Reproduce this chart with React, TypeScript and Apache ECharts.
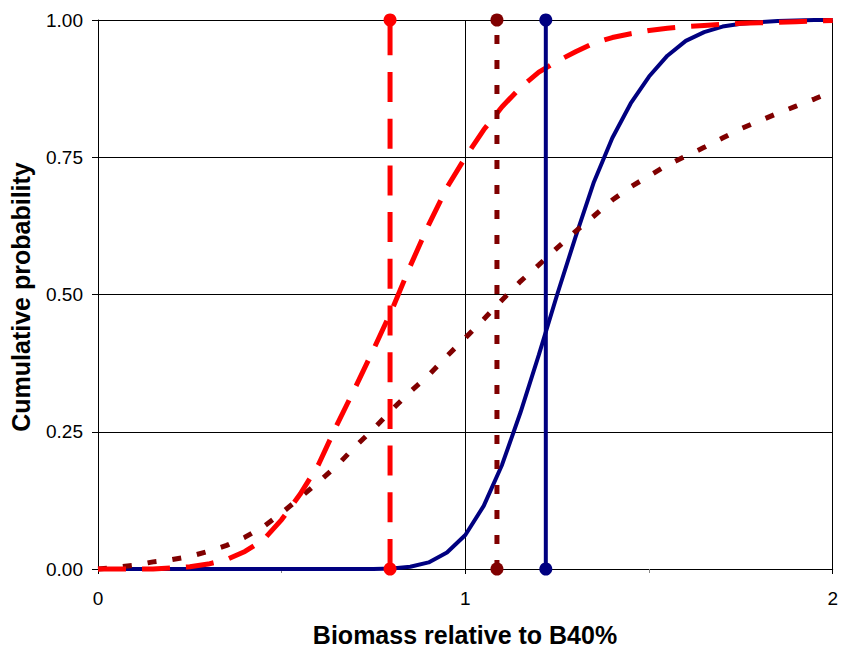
import React, { useEffect, useRef } from "react";
import * as echarts from "echarts";

// x positions of the curve points (biomass relative to B40%)
const xs = [
  0, 0.05, 0.1, 0.15, 0.2, 0.25, 0.3, 0.35, 0.4, 0.45, 0.5, 0.55, 0.6, 0.65, 0.7, 0.75, 0.8, 0.85, 0.9, 0.95,
  1.0, 1.05, 1.1, 1.15, 1.2, 1.25, 1.3, 1.35, 1.4, 1.45, 1.5, 1.55, 1.6, 1.65, 1.7, 1.75, 1.8, 1.85, 1.9, 1.95, 2.0,
];

// solid navy curve
const blueCum = [
  0, 0, 0, 0, 0, 0, 0, 0, 0, 0, 0, 0, 0, 0, 0, 0, 0.001, 0.004, 0.012, 0.03,
  0.062, 0.115, 0.19, 0.285, 0.39, 0.5, 0.605, 0.705, 0.785, 0.848, 0.897, 0.935, 0.962, 0.978, 0.988, 0.993, 0.996, 0.998, 0.999, 1.0, 1.0,
];

// dashed red curve
const redCum = [
  0, 0, 0, 0, 0.002, 0.004, 0.009, 0.017, 0.032, 0.053, 0.09, 0.136, 0.19, 0.262, 0.33, 0.4, 0.472, 0.552, 0.627, 0.695,
  0.75, 0.8, 0.842, 0.877, 0.905, 0.925, 0.942, 0.958, 0.968, 0.975, 0.981, 0.985, 0.988, 0.99, 0.992, 0.994, 0.995, 0.996, 0.997, 0.998, 0.999,
];

// dotted dark-red curve
const darkRedCum = [
  0, 0.003, 0.007, 0.013, 0.017, 0.023, 0.032, 0.043, 0.058, 0.077, 0.102, 0.13, 0.158, 0.188, 0.223, 0.255, 0.29, 0.323, 0.353, 0.388,
  0.421, 0.455, 0.49, 0.524, 0.554, 0.585, 0.615, 0.643, 0.672, 0.696, 0.716, 0.736, 0.752, 0.768, 0.785, 0.802, 0.816, 0.83, 0.843, 0.856, 0.87,
];

// vertical reference lines (x positions)
const redRefX = 0.795;
const darkRedRefX = 1.086;
const blueRefX = 1.219;

const yTicks = [0, 0.25, 0.5, 0.75, 1.0];
const xTicks = [0, 1, 2];

const FONT = "'Liberation Sans', Arial, sans-serif";

export default function App() {
  const ref = useRef<HTMLDivElement>(null);

  useEffect(() => {
    if (!ref.current) return;
    const chart = echarts.init(ref.current, null, { renderer: "svg" });

    const curve = (vals: number[], color: string, width: number, type: any, z: number) => ({
      type: "line",
      data: xs.map((x, i) => [x, vals[i]]),
      showSymbol: false,
      symbol: "none",
      smooth: false,
      clip: false,
      z,
      lineStyle: { color, width, type },
      silent: true,
    });

    const vline = (x: number, color: string, width: number, type: any, z: number) => ({
      type: "line",
      data: [
        [x, yTicks[0]],
        [x, yTicks[yTicks.length - 1]],
      ],
      showSymbol: true,
      symbol: "circle",
      symbolSize: 13,
      clip: false,
      z,
      itemStyle: { color },
      lineStyle: { color, width, type },
      silent: true,
    });

    chart.setOption({
      animation: false,
      backgroundColor: "#ffffff",
      grid: { left: 98, right: 3, top: 20, bottom: 81, containLabel: false },
      xAxis: {
        type: "value",
        min: xTicks[0],
        max: xTicks[xTicks.length - 1],
        interval: 1,
        axisLine: { show: true, lineStyle: { color: "#000", width: 1 } },
        axisTick: { show: true, length: 5, lineStyle: { color: "#000" } },
        minorTick: { show: true, splitNumber: 2, length: 4, lineStyle: { color: "#888" } },
        axisLabel: { fontFamily: FONT, fontSize: 19, color: "#000", margin: 20 },
        splitLine: { show: true, lineStyle: { color: "#000", width: 1 } },
      },
      yAxis: {
        type: "value",
        min: yTicks[0],
        max: yTicks[yTicks.length - 1],
        interval: 0.25,
        axisLine: { show: true, lineStyle: { color: "#000", width: 1 } },
        axisTick: { show: true, length: 6, lineStyle: { color: "#000" } },
        axisLabel: {
          fontFamily: FONT,
          fontSize: 19,
          color: "#000",
          margin: 15,
          formatter: (v: number) => v.toFixed(2),
        },
        splitLine: { show: true, lineStyle: { color: "#000", width: 1 } },
      },
      graphic: [
        {
          type: "text",
          x: 465,
          y: 635,
          style: {
            text: "Biomass relative to B40%",
            font: `bold 25px ${FONT}`,
            fill: "#000",
            textAlign: "center",
            textVerticalAlign: "middle",
          },
        },
        {
          type: "text",
          x: 21,
          y: 297,
          rotation: Math.PI / 2,
          style: {
            text: "Cumulative probability",
            font: `bold 25px ${FONT}`,
            fill: "#000",
            textAlign: "center",
            textVerticalAlign: "middle",
          },
        },
      ],
      series: [
        curve(blueCum, "#000080", 4, "solid", 2),
        curve(darkRedCum, "#800000", 5, [9, 16], 3),
        curve(redCum, "#FF0000", 5, [28, 16], 4),
        vline(redRefX, "#FF0000", 5, [30, 16.7], 5),
        vline(darkRedRefX, "#800000", 5, [9, 16], 5),
        vline(blueRefX, "#000080", 4, "solid", 5),
      ],
    });

    return () => chart.dispose();
  }, []);

  return (
    <div
      ref={ref}
      style={{ position: "fixed", left: 0, top: 0, width: 841, height: 650, background: "#fff" }}
    />
  );
}
